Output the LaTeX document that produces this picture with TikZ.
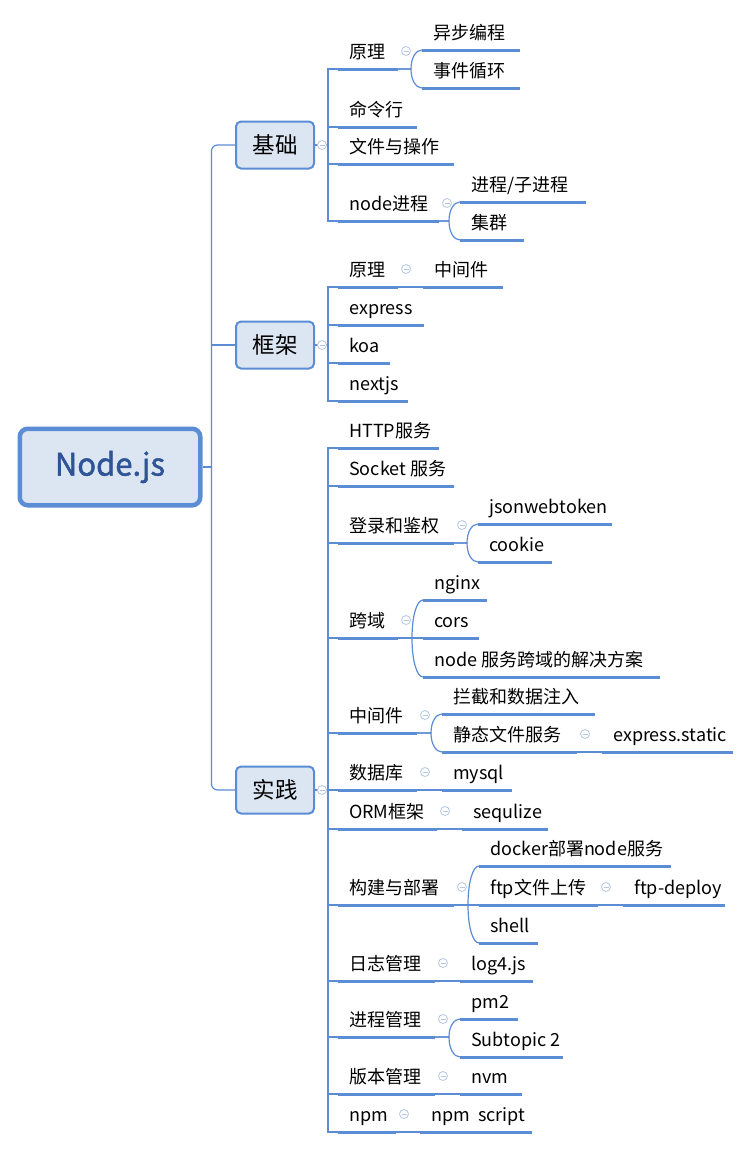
\documentclass[tikz,border=0pt]{standalone}
\usepackage{fontspec}
\setmainfont{Noto Sans CJK SC}
\newfontfamily\rootfont{Noto Sans CJK SC}[FakeBold=1.5]
\usetikzlibrary{calc}
\definecolor{lblue}{HTML}{5B8DD6}
\definecolor{bfill}{HTML}{DCE6F2}
\definecolor{rtext}{HTML}{2F5496}
\definecolor{mkc}{HTML}{B3C7E3}
\tikzset{
  conn/.style={draw=lblue, line width=1.2pt},
  uline/.style={draw=lblue, line width=3pt},
  topictext/.style={inner sep=0pt, font=\fontsize{18}{21}\selectfont, text=black},
  mainbox/.style={draw=lblue, fill=bfill, line width=2pt, rounded corners=5pt,
    minimum width=78pt, minimum height=47pt, inner sep=0pt, font=\fontsize{22.5}{26}\selectfont},
  rootbox/.style={draw=lblue, fill=bfill, line width=4.5pt, rounded corners=8pt,
    minimum width=180.5pt, minimum height=76.5pt, inner sep=0pt, font=\rootfont\fontsize{31}{35}\selectfont, text=rtext},
  marker/.style={circle, draw=mkc, fill=white, line width=0.8pt, minimum size=9pt, inner sep=0pt,
    path picture={\draw[mkc, line width=0.9pt] ([xshift=-2.5pt]path picture bounding box.center) -- ([xshift=2.5pt]path picture bounding box.center);}},
}
% topic: name, x start, x end, y of underline, text
\newcommand\tp[5]{%
  \coordinate (#1-s) at (#2,#4);
  \coordinate (#1-e) at (#3,#4);
  \node[topictext, anchor=base west] (#1) at (#2+11,#4-11) {#5};
  \draw[uline] (#1-s) -- (#1-e);
}
% collapse marker for a topic
\newcommand\mk[1]{\node[marker] (#1-m) at ($(#1-e)+(8,-18)$) {};}
% curved bracket connector from parent end to child start
\newcommand\br[2]{%
  \draw[conn] let \p1=(#1-e), \p2=(#2-s) in
    (\p1) -- (\x2-11pt,\y1) .. controls (\x2-11pt,{\y1+0.6*(\y2-\y1)}) and (\x2-6pt,\y2) .. (\p2);
}
% straight connector
\newcommand\st[2]{\draw[conn] (#1-e) -- (#2-s);}
% from main node to its child via the vertical line
\newcommand\mc[2]{\draw[conn] (#1.east) -- ++(13,0) |- (#2-s);}
\begin{document}
\begin{tikzpicture}[x=1pt,y=-1pt]
\useasboundingbox (0,0) rectangle (751,1149);
\fill[white] (0,0) rectangle (751,1149);

% root and main nodes
\node[rootbox] (root) at (110,467) {Node.js};
\node[mainbox] (b1) at (275,145) {基础};
\node[mainbox] (b2) at (275,345) {框架};
\node[mainbox] (b3) at (275,790) {实践};

\draw[conn] (root.east) -- ++(9,0) coordinate (t0);
\draw[conn, rounded corners=6pt] (t0) |- (b1.west);
\draw[conn, rounded corners=6pt] (t0) |- (b3.west);
\draw[conn] (t0) |- (b2.west);

% ---------- 基础 ----------
\tp{b1a}{338}{398}{69}{原理}
\tp{b1a1}{422}{520}{50}{异步编程}
\tp{b1a2}{422}{520}{88}{事件循环}
\tp{b1b}{338}{417}{127}{命令行}
\tp{b1c}{338}{454}{164}{文件与操作}
\tp{b1d}{338}{439}{221}{node进程}
\tp{b1d1}{460}{586}{202}{进程/子进程}
\tp{b1d2}{460}{524}{240}{集群}
\foreach \c in {b1a,b1b,b1c,b1d} {\mc{b1}{\c}}
\br{b1a}{b1a1}\br{b1a}{b1a2}
\br{b1d}{b1d1}\br{b1d}{b1d2}
\mk{b1a}\mk{b1d}

% ---------- 框架 ----------
\tp{b2a}{338}{398}{287}{原理}
\tp{b2a1}{423}{503}{287}{中间件}
\tp{b2b}{338}{424}{325}{express}
\tp{b2c}{338}{390}{363}{koa}
\tp{b2d}{338}{408}{401}{nextjs}
\foreach \c in {b2a,b2b,b2c,b2d} {\mc{b2}{\c}}
\st{b2a}{b2a1}
\mk{b2a}

% ---------- 实践 ----------
\tp{c1}{338}{439}{448}{HTTP服务}
\tp{c2}{338}{454}{486}{Socket 服务}
\tp{c3}{338}{454}{543}{登录和鉴权}
\tp{c3a}{478}{612}{524}{jsonwebtoken}
\tp{c3b}{478}{552}{562}{cookie}
\tp{c4}{338}{398}{638}{跨域}
\tp{c4a}{423}{487}{600}{nginx}
\tp{c4b}{423}{479}{638}{cors}
\tp{c4c}{423}{660}{677}{node 服务跨域的解决方案}
\tp{c5}{338}{417}{733}{中间件}
\tp{c5a}{442}{595}{714}{拦截和数据注入}
\tp{c5b}{442}{577}{752}{静态文件服务}
\tp{c5b1}{602}{733}{752}{express.static}
\tp{c6}{338}{417}{790}{数据库}
\tp{c6a}{442}{512}{790}{mysql}
\tp{c7}{338}{437}{829}{ORM框架}
\tp{c7a}{462}{548}{829}{sequlize}
\tp{c8}{338}{454}{905}{构建与部署}
\tp{c8a}{479}{671}{866}{docker部署node服务}
\tp{c8b}{479}{598}{905}{ftp文件上传}
\tp{c8b1}{623}{725}{905}{ftp-deploy}
\tp{c8c}{479}{538}{943}{shell}
\tp{c9}{338}{435}{981}{日志管理}
\tp{c9a}{460}{533}{981}{log4.js}
\tp{c10}{338}{435}{1037}{进程管理}
\tp{c10a}{460}{518}{1019}{pm2}
\tp{c10b}{460}{563}{1057}{Subtopic 2}
\tp{c11}{338}{435}{1094}{版本管理}
\tp{c11a}{460}{522}{1094}{nvm}
\tp{c12}{338}{396}{1132}{npm}
\tp{c12a}{420}{532}{1132}{npm~~script}
\foreach \c in {c1,c2,c3,c4,c5,c6,c7,c8,c9,c10,c11,c12} {\mc{b3}{\c}}
\br{c3}{c3a}\br{c3}{c3b}
\br{c4}{c4a}\st{c4}{c4b}\br{c4}{c4c}
\br{c5}{c5a}\br{c5}{c5b}\st{c5b}{c5b1}
\st{c6}{c6a}
\st{c7}{c7a}
\br{c8}{c8a}\st{c8}{c8b}\br{c8}{c8c}\st{c8b}{c8b1}
\st{c9}{c9a}
\br{c10}{c10a}\br{c10}{c10b}
\st{c11}{c11a}
\st{c12}{c12a}
\mk{c3}\mk{c4}\mk{c5}\mk{c5b}\mk{c6}\mk{c7}\mk{c8}\mk{c8b}\mk{c9}\mk{c10}\mk{c11}\mk{c12}

% markers of main nodes
\node[marker] (b1-m) at ($(b1.east)+(7,0)$) {};
\node[marker] (b2-m) at ($(b2.east)+(7,0)$) {};
\node[marker] (b3-m) at ($(b3.east)+(7,0)$) {};
\end{tikzpicture}
\end{document}
